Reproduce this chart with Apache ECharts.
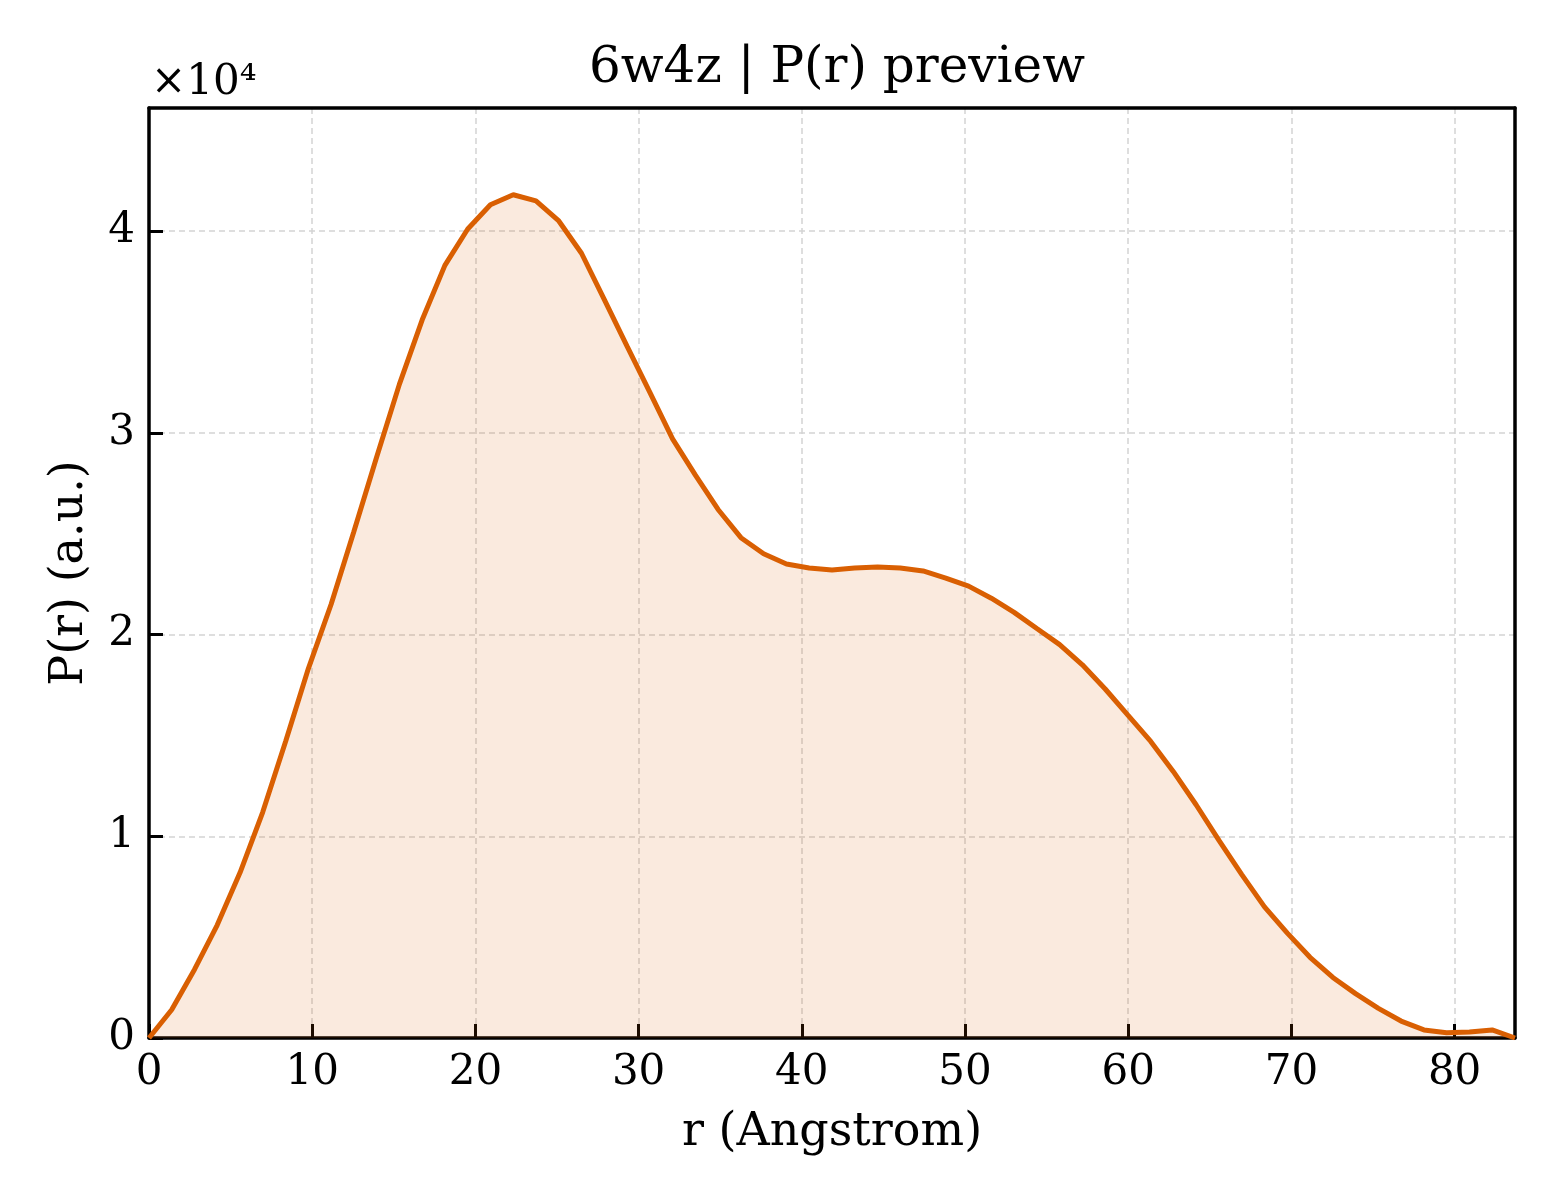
<!DOCTYPE html>
<html>
<head>
<meta charset="utf-8">
<script src="https://cdn.jsdelivr.net/npm/echarts@6/dist/echarts.min.js"></script>
<style>
  html, body { margin: 0; padding: 0; background: #fff; }
  #chart { width: 1560px; height: 1200px; }
</style>
</head>
<body>
<div id="chart"></div>
<script>
// r in Angstrom
const rValues = [
  0.00, 1.39, 2.79, 4.18, 5.58, 6.97, 8.37, 9.76, 11.16, 12.55,
  13.95, 15.34, 16.74, 18.13, 19.53, 20.92, 22.32, 23.71, 25.11, 26.50,
  27.90, 29.29, 30.69, 32.08, 33.48, 34.87, 36.27, 37.66, 39.06, 40.45,
  41.85, 43.24, 44.64, 46.03, 47.43, 48.82, 50.22, 51.61, 53.01, 54.40,
  55.80, 57.19, 58.59, 59.98, 61.38, 62.77, 64.17, 65.56, 66.96, 68.35,
  69.75, 71.14, 72.54, 73.93, 75.33, 76.72, 78.12, 79.51, 80.91, 82.30,
  83.70
];
// P(r), a.u.
const prValues = [
  0, 1400, 3400, 5600, 8200, 11200, 14700, 18300, 21500, 25100,
  28800, 32400, 35600, 38300, 40100, 41300, 41800, 41500, 40500, 38900,
  36600, 34300, 32000, 29700, 27900, 26200, 24800, 24000, 23500, 23300,
  23200, 23300, 23350, 23300, 23150, 22800, 22400, 21800, 21100, 20300,
  19500, 18500, 17300, 16000, 14700, 13200, 11550, 9800, 8100, 6500,
  5200, 4000, 3000, 2200, 1470, 840, 400, 260, 300, 400,
  0
];
const yTicks = [0, 10000, 20000, 30000, 40000];
const xTicks = [0, 10, 20, 30, 40, 50, 60, 70, 80];

const font = 'DejaVu Serif';
const orange = '#D95F02';
const xMax = 83.7;
const yMax = 46100;

const chart = echarts.init(document.getElementById('chart'), null, { renderer: 'canvas' });

const gridLine = {
  show: true, showMinLine: false, showMaxLine: false,
  lineStyle: { color: '#d4d4d4', width: 1.5, type: [6, 4] }
};
const frameLine = { show: true, onZero: false, lineStyle: { color: '#000', width: 3.5 } };
const tick = { show: true, inside: true, length: 14, lineStyle: { color: '#000', width: 3 } };

chart.setOption({
  animation: false,
  backgroundColor: '#fff',
  title: {
    text: '6w4z | P(r) preview',
    left: 832,
    top: 39,
    textAlign: 'center',
    textStyle: { fontFamily: font, fontSize: 50, fontWeight: 'normal', color: '#000' }
  },
  grid: { left: 149, right: 45, top: 108, bottom: 162 },
  graphic: [{
    type: 'text',
    left: 151,
    top: 62,
    style: { text: '×10⁴', fontFamily: font, fontSize: 42, fill: '#000' }
  }],
  xAxis: [{
    type: 'value',
    min: 0,
    max: xMax,
    interval: 10,
    name: 'r (Angstrom)',
    nameLocation: 'middle',
    nameGap: 72,
    nameTextStyle: { fontFamily: font, fontSize: 46, color: '#000' },
    axisLine: frameLine,
    axisTick: tick,
    axisLabel: {
      fontFamily: font, fontSize: 42, color: '#000', margin: 14,
      showMaxLabel: false,
      formatter: v => xTicks.includes(v) ? String(v) : ''
    },
    splitLine: gridLine
  }, {
    type: 'value',
    position: 'top',
    min: 0,
    max: xMax,
    axisLine: frameLine,
    axisTick: { show: false },
    axisLabel: { show: false },
    splitLine: { show: false }
  }],
  yAxis: [{
    type: 'value',
    min: 0,
    max: yMax,
    interval: 10000,
    name: 'P(r) (a.u.)',
    nameLocation: 'middle',
    nameGap: 56,
    nameRotate: 90,
    nameTextStyle: { fontFamily: font, fontSize: 46, color: '#000' },
    axisLine: frameLine,
    axisTick: tick,
    axisLabel: {
      fontFamily: font, fontSize: 42, color: '#000', margin: 14,
      showMaxLabel: false,
      formatter: v => yTicks.includes(v) ? String(v / 10000) : ''
    },
    splitLine: gridLine
  }, {
    type: 'value',
    position: 'right',
    min: 0,
    max: yMax,
    axisLine: frameLine,
    axisTick: { show: false },
    axisLabel: { show: false },
    splitLine: { show: false }
  }],
  series: [{
    type: 'line',
    xAxisIndex: 0,
    yAxisIndex: 0,
    data: rValues.map((r, i) => [r, prValues[i]]),
    showSymbol: false,
    smooth: false,
    lineStyle: { color: orange, width: 5 },
    itemStyle: { color: orange },
    areaStyle: { color: orange, opacity: 0.13 }
  }]
});
</script>
</body>
</html>
